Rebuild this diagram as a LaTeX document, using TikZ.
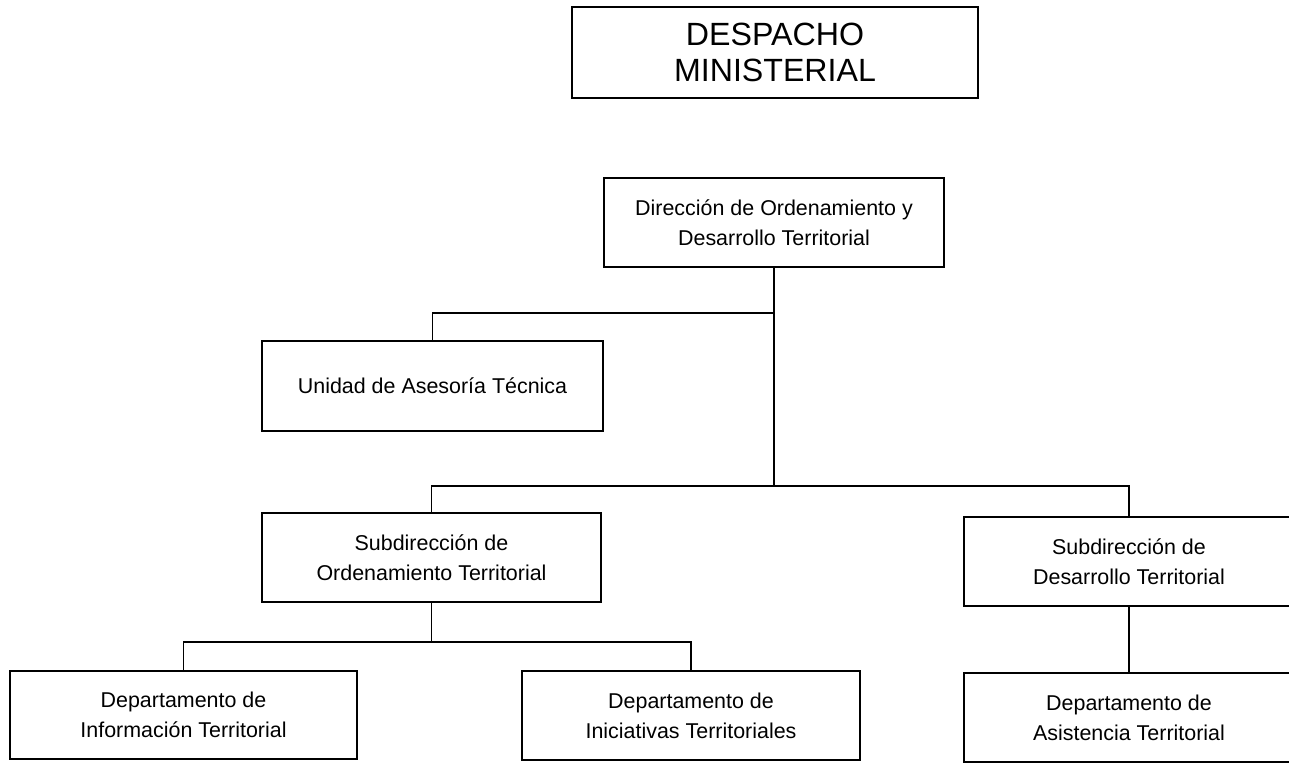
\documentclass[tikz,border=0pt]{standalone}
\usepackage{fontspec}
\setmainfont{Liberation Sans}
\usepackage{tikz}
\usetikzlibrary{calc}
\tikzset{
    org-box/.style = {draw=black, fill=white, line width=1pt, rectangle, align=center, minimum width=6.8cm, minimum height=1.78cm, inner sep=2pt, font=\fontsize{12.2}{17}\selectfont},
    org-title/.style = {org-box, minimum width=8.12cm, minimum height=1.82cm, font=\fontsize{18.3}{20}\selectfont},
    org-line/.style = {draw=black, line width=1pt},
}

\begin{document}
\begin{tikzpicture}[x=0.02cm, y=-0.02cm]
\useasboundingbox (0,0) rectangle (1289,763);
\clip (0,0) rectangle (1289,763);
\fill[white] (0,0) rectangle (1289,763);
\node[org-title] (despacho) at (775,52.5) {DESPACHO\\MINISTERIAL};
\node[org-box] (direccion) at (774,222.5) {Dirección de Ordenamiento y\\Desarrollo Territorial};
\node[org-box, minimum width=6.82cm, minimum height=1.8cm] (unidad) at (432.5,386) {Unidad de Asesoría Técnica};
\node[org-box, minimum width=6.78cm] (subord) at (431.5,557.5) {Subdirección de\\Ordenamiento Territorial};
\node[org-box, minimum width=6.6cm] (subdes) at (1129,561.5) {Subdirección de\\Desarrollo Territorial};
\node[org-box, minimum width=6.94cm, minimum height=1.76cm] (info) at (183.5,715) {Departamento de\\Información Territorial};
\node[org-box, minimum width=6.76cm] (inic) at (691,715.5) {Departamento de\\Iniciativas Territoriales};
\node[org-box, minimum width=6.6cm] (asist) at (1129,717.5) {Departamento de\\Asistencia Territorial};
\draw[org-line] (unidad.north) -- ++(0,-27) -| (direccion.south);
\draw[org-line] (direccion.south) |- ($(subord.north)+(0,-26)$);
\draw[org-line] (subord.north) -- ++(0,-26) -| (subdes.north);
\draw[org-line] (subord.south) -- ++(0,39) -| (info.north);
\draw[org-line] (subord.south) -- ++(0,39) -| (inic.north);
\draw[org-line] (subdes.south) -- (asist.north);
\end{tikzpicture}
\end{document}
